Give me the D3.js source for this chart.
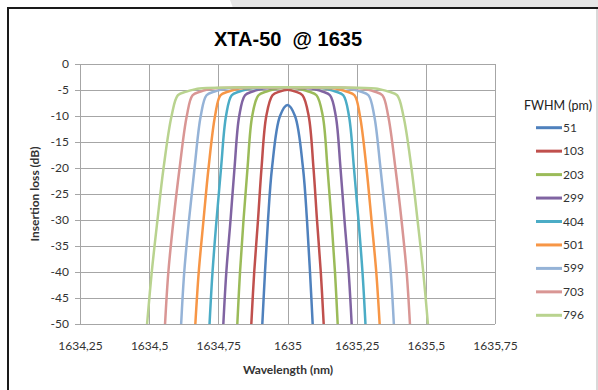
<!DOCTYPE html>
<html>
<head>
<meta charset="utf-8">
<script src="https://cdn.jsdelivr.net/npm/d3@7"></script>
<style>
  body { margin: 0; background: #fff; }
  svg { display: block; }
  text { font-family: Lato, "Open Sans", sans-serif; }
</style>
</head>
<body>
<div class="chart"></div>
<script>
"use strict";

// series labels (FWHM, pm) and their colours
var fwhm = ["51", "103", "203", "299", "404", "501", "599", "703", "796"];
var colors = ["#4F81BD", "#C0504D", "#9BBB59", "#8064A2", "#4BACC6",
              "#F79646", "#95B3D7", "#D99694", "#B9D38F"];

var levels = [-50, -40, -30, -20, -10, -6, -5.3, -4.9];
// half-width (nm) from 1635 nm at each level, per series (null = not reached)
var halfWidths = [
  [0.0910, 0.0813, 0.0704, 0.0560, 0.0271, null, null, null],
  [0.1308, 0.1203, 0.1066, 0.0939, 0.0766, 0.0542, 0.0289, null],
  [0.1814, 0.1716, 0.1590, 0.1445, 0.1275, 0.1048, 0.0759, 0.0520],
  [0.2319, 0.2211, 0.2059, 0.1915, 0.1745, 0.1535, 0.1264, 0.1026],
  [0.2818, 0.2710, 0.2565, 0.2402, 0.2222, 0.2016, 0.1734, 0.1496],
  [0.3331, 0.3208, 0.3035, 0.2854, 0.2619, 0.2421, 0.2131, 0.1893],
  [0.3844, 0.3732, 0.3560, 0.3360, 0.3136, 0.2926, 0.2637, 0.2377],
  [0.4426, 0.4306, 0.4120, 0.3900, 0.3640, 0.3430, 0.3140, 0.2882],
  [0.5076, 0.4906, 0.4700, 0.4480, 0.4190, 0.3960, 0.3650, 0.3368]
];
// flat top: half-width (nm) and level (dB)
var topHalf = [0, 0, 0.0361, 0.0867, 0.1337, 0.1734, 0.2204, 0.2710, 0.3180];
var topLoss = [-7.9, -4.95, -4.7, -4.7, -4.7, -4.7, -4.7, -4.7, -4.7];
var centre = 1635;

var yTicks = [0, -5, -10, -15, -20, -25, -30, -35, -40, -45, -50];
var xTicks = [1634.25, 1634.5, 1634.75, 1635, 1635.25, 1635.5, 1635.75];

var W = 598, H = 390;
var plot = { left: 80, right: 495, top: 64, bottom: 324 };

var svg = d3.select(".chart").append("svg")
  .attr("width", W).attr("height", H);

// screenshot frame
svg.append("rect").attr("width", W).attr("height", H).attr("fill", "#fff");
svg.append("path").attr("d", "M230,0 L598,0 L598,8 L233,8 Z").attr("fill", "#e6e6e6");
svg.append("rect").attr("x", 7).attr("y", 7).attr("width", W - 7).attr("height", 2).attr("fill", "#1a1a1a");
svg.append("rect").attr("x", 7).attr("y", 7).attr("width", 2).attr("height", H - 7).attr("fill", "#1a1a1a");
svg.append("rect").attr("x", 596).attr("y", 9).attr("width", 2).attr("height", H - 9).attr("fill", "#d9d9d9");

var x = d3.scaleLinear().domain([1634.25, 1635.75]).range([plot.left, plot.right]);
var y = d3.scaleLinear().domain([-50, 0]).range([plot.bottom, plot.top]);

// title
svg.append("text")
  .attr("x", 288).attr("y", 46)
  .attr("text-anchor", "middle")
  .style("font-family", "'Liberation Sans', Arial, sans-serif")
  .style("font-size", "20px").style("font-weight", "bold")
  .style("white-space", "pre")
  .text("XTA-50  @ 1635");

//grid
var grid = svg.append("g").attr("shape-rendering", "crispEdges");
grid.selectAll(".hline").data(yTicks).enter().append("line")
  .attr("x1", plot.left - 5).attr("x2", plot.right)
  .attr("y1", function(d){ return Math.round(y(d)) + 0.5; })
  .attr("y2", function(d){ return Math.round(y(d)) + 0.5; })
  .attr("stroke", "#a6a6a6");
grid.selectAll(".vline").data(xTicks).enter().append("line")
  .attr("y1", plot.top).attr("y2", plot.bottom)
  .attr("x1", function(d){ return Math.round(x(d)) + 0.5; })
  .attr("x2", function(d){ return Math.round(x(d)) + 0.5; })
  .attr("stroke", "#a6a6a6");

// axes (labels only, lines come from grid)
var yAxis = d3.axisLeft(y).tickValues(yTicks).tickSize(0).tickPadding(11)
  .tickFormat(function(d){ return String(d); });
var gy = svg.append("g").attr("transform", "translate(" + plot.left + ",0)").call(yAxis);
var xAxis = d3.axisBottom(x).tickValues(xTicks).tickSize(0).tickPadding(17)
  .tickFormat(function(d){ return String(d).replace(".", ","); });
var gx = svg.append("g").attr("transform", "translate(0," + plot.bottom + ")").call(xAxis);
[gx, gy].forEach(function(g){
  g.select(".domain").remove();
  g.selectAll("text").style("font-family", "Lato, sans-serif")
    .style("font-size", "12px").attr("fill", "#333");
});

svg.append("text")
  .attr("x", 288).attr("y", 374).attr("text-anchor", "middle")
  .style("font-size", "12px").style("font-weight", "bold").attr("fill", "#333")
  .text("Wavelength (nm)");
svg.append("text")
  .attr("transform", "translate(39,194) rotate(-90)").attr("text-anchor", "middle")
  .style("font-size", "12px").style("font-weight", "bold").attr("fill", "#333")
  .text("Insertion loss (dB)");

// curves
function seriesPoints(i){
  var pts = [];
  levels.forEach(function(l, k){
    if(halfWidths[i][k] !== null) pts.push([centre - halfWidths[i][k], l]);
  });
  pts.push([centre - topHalf[i], topLoss[i]]);
  if(topHalf[i] > 0) pts.push([centre + topHalf[i], topLoss[i]]);
  for(var k = levels.length - 1; k >= 0; k--){
    if(halfWidths[i][k] !== null) pts.push([centre + halfWidths[i][k], levels[k]]);
  }
  return pts;
}

var line = d3.line()
  .x(function(d){ return x(d[0]); })
  .y(function(d){ return y(d[1]); })
  .curve(d3.curveCatmullRom.alpha(0.5));

svg.append("g").selectAll(".curve")
  .data(fwhm).enter().append("path")
  .attr("class", "curve")
  .attr("d", function(d, i){ return line(seriesPoints(i)); })
  .attr("fill", "none")
  .attr("stroke", function(d, i){ return colors[i]; })
  .attr("stroke-width", 2.5);

// legend
svg.append("text")
  .attr("x", 524).attr("y", 110)
  .style("font-size", "12.5px").attr("fill", "#222")
  .text("FWHM (pm)");
var legend = svg.selectAll(".leg")
  .data(fwhm).enter().append("g").attr("class", "leg")
  .attr("transform", function(d, i){ return "translate(536," + (127.7 + i * 23.45) + ")"; });
legend.append("line")
  .attr("x1", 0).attr("x2", 26)
  .attr("stroke", function(d, i){ return colors[i]; })
  .attr("stroke-width", 3);
legend.append("text")
  .attr("x", 27).attr("y", 4)
  .style("font-size", "12px").attr("fill", "#333")
  .text(function(d){ return d; });
</script>
</body>
</html>
